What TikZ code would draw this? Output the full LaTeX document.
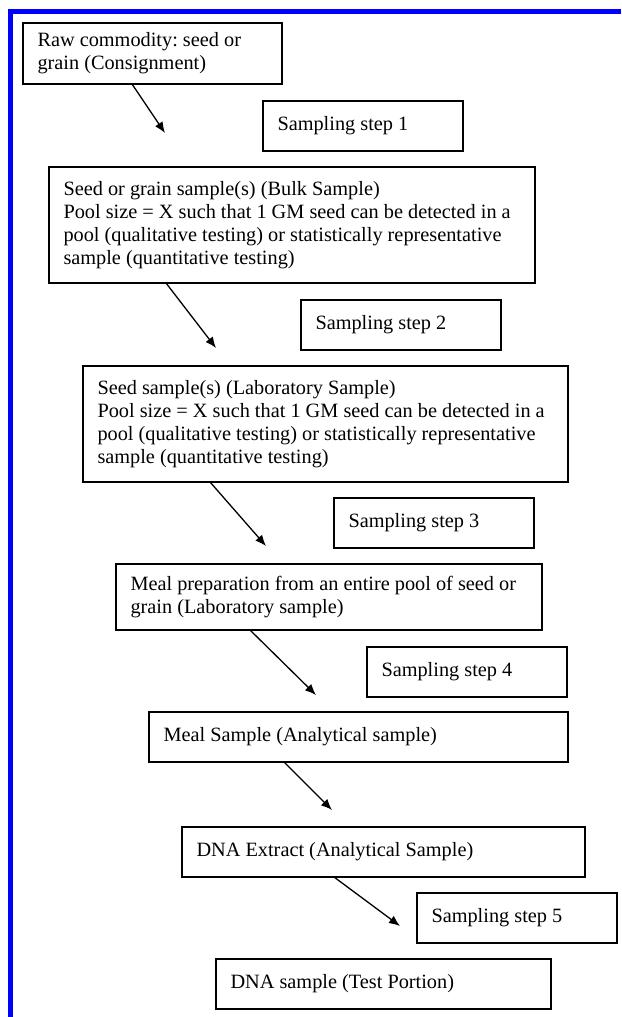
\documentclass[tikz,border=0pt]{standalone}
\usepackage{fontspec}
\setmainfont{Liberation Serif}
\frenchspacing
\usepackage{tikz}
\usetikzlibrary{arrows.meta,positioning}
\definecolor{frameBlue}{HTML}{0000FF}
\tikzset{
  stage/.style 2 args={rectangle, draw=black, line width=1.3pt, outer sep=0pt, inner xsep=14.5pt, align=flush left, minimum width=#1pt, text width={(#1-29)*1pt}, minimum height=#2pt, font=\fontsize{20.3pt}{23pt}\selectfont},
  stepbox/.style={stage={200}{50}},
  flow/.style={-{Latex[length=11pt,width=9pt]}, line width=1.3pt, draw=black},
  frame/.style={draw=frameBlue, line width=5pt}
}
\begin{document}
\begin{tikzpicture}[x=1pt,y=1pt]
\useasboundingbox (0,0) rectangle (621,-1017);

\draw[frame] (10.7,-1017) -- (10.7,-11.5) -- (621,-11.5);

\node[stage={259}{61}, anchor=north west] (raw) at (23,-23) {Raw commodity: seed or\\grain (Consignment)};
\node[stage={486}{116}, below right=83pt and 26pt of raw.south west] (bulk) {Seed or grain sample(s) (Bulk Sample)\\Pool size = X such that 1 GM seed can be detected in a\\pool (qualitative testing) or statistically representative\\sample (quantitative testing)};
\node[stage={485}{116}, below right=83pt and 34pt of bulk.south west] (lab) {Seed sample(s) (Laboratory Sample)\\Pool size = X such that 1 GM seed can be detected in a\\pool (qualitative testing) or statistically representative\\sample (quantitative testing)};
\node[stage={426}{66}, below right=82pt and 33pt of lab.south west] (meal) {Meal preparation from an entire pool of seed or\\grain (Laboratory sample)};
\node[stage={419}{50}, below right=82pt and 33pt of meal.south west] (mealsample) {Meal Sample (Analytical sample)};
\node[stage={403}{50}, below right=65pt and 33pt of mealsample.south west] (extract) {DNA Extract (Analytical Sample)};
\node[stage={335}{50}, below right=82pt and 34pt of extract.south west] (dnasample) {DNA sample (Test Portion)};

\node[stepbox, below right=17pt and 240pt of raw.south west] (step1) {Sampling step 1};
\node[stepbox, below right=17pt and 252pt of bulk.south west] (step2) {Sampling step 2};
\node[stepbox, below right=16pt and 251pt of lab.south west] (step3) {Sampling step 3};
\node[stepbox, below right=17pt and 251pt of meal.south west] (step4) {Sampling step 4};
\node[stepbox, below right=16pt and 235pt of extract.south west] (step5) {Sampling step 5};

\coordinate (tip1) at ([xshift=142pt,yshift=-49pt]raw.south west);
\coordinate (tip2) at ([xshift=167pt,yshift=-65pt]bulk.south west);
\coordinate (tip3) at ([xshift=183pt,yshift=-64pt]lab.south west);
\coordinate (tip4) at ([xshift=200pt,yshift=-65pt]meal.south west);
\coordinate (tip5) at ([xshift=183pt,yshift=-48pt]mealsample.south west);
\coordinate (tip6) at ([xshift=218pt,yshift=-49pt]extract.south west);

\draw[flow] ([xshift=109pt]raw.south west) -- (tip1);
\draw[flow] ([xshift=117pt]bulk.south west) -- (tip2);
\draw[flow] ([xshift=127pt]lab.south west) -- (tip3);
\draw[flow] ([xshift=134pt]meal.south west) -- (tip4);
\draw[flow] ([xshift=135pt]mealsample.south west) -- (tip5);
\draw[flow] ([xshift=152pt]extract.south west) -- (tip6);

\end{tikzpicture}
\end{document}
